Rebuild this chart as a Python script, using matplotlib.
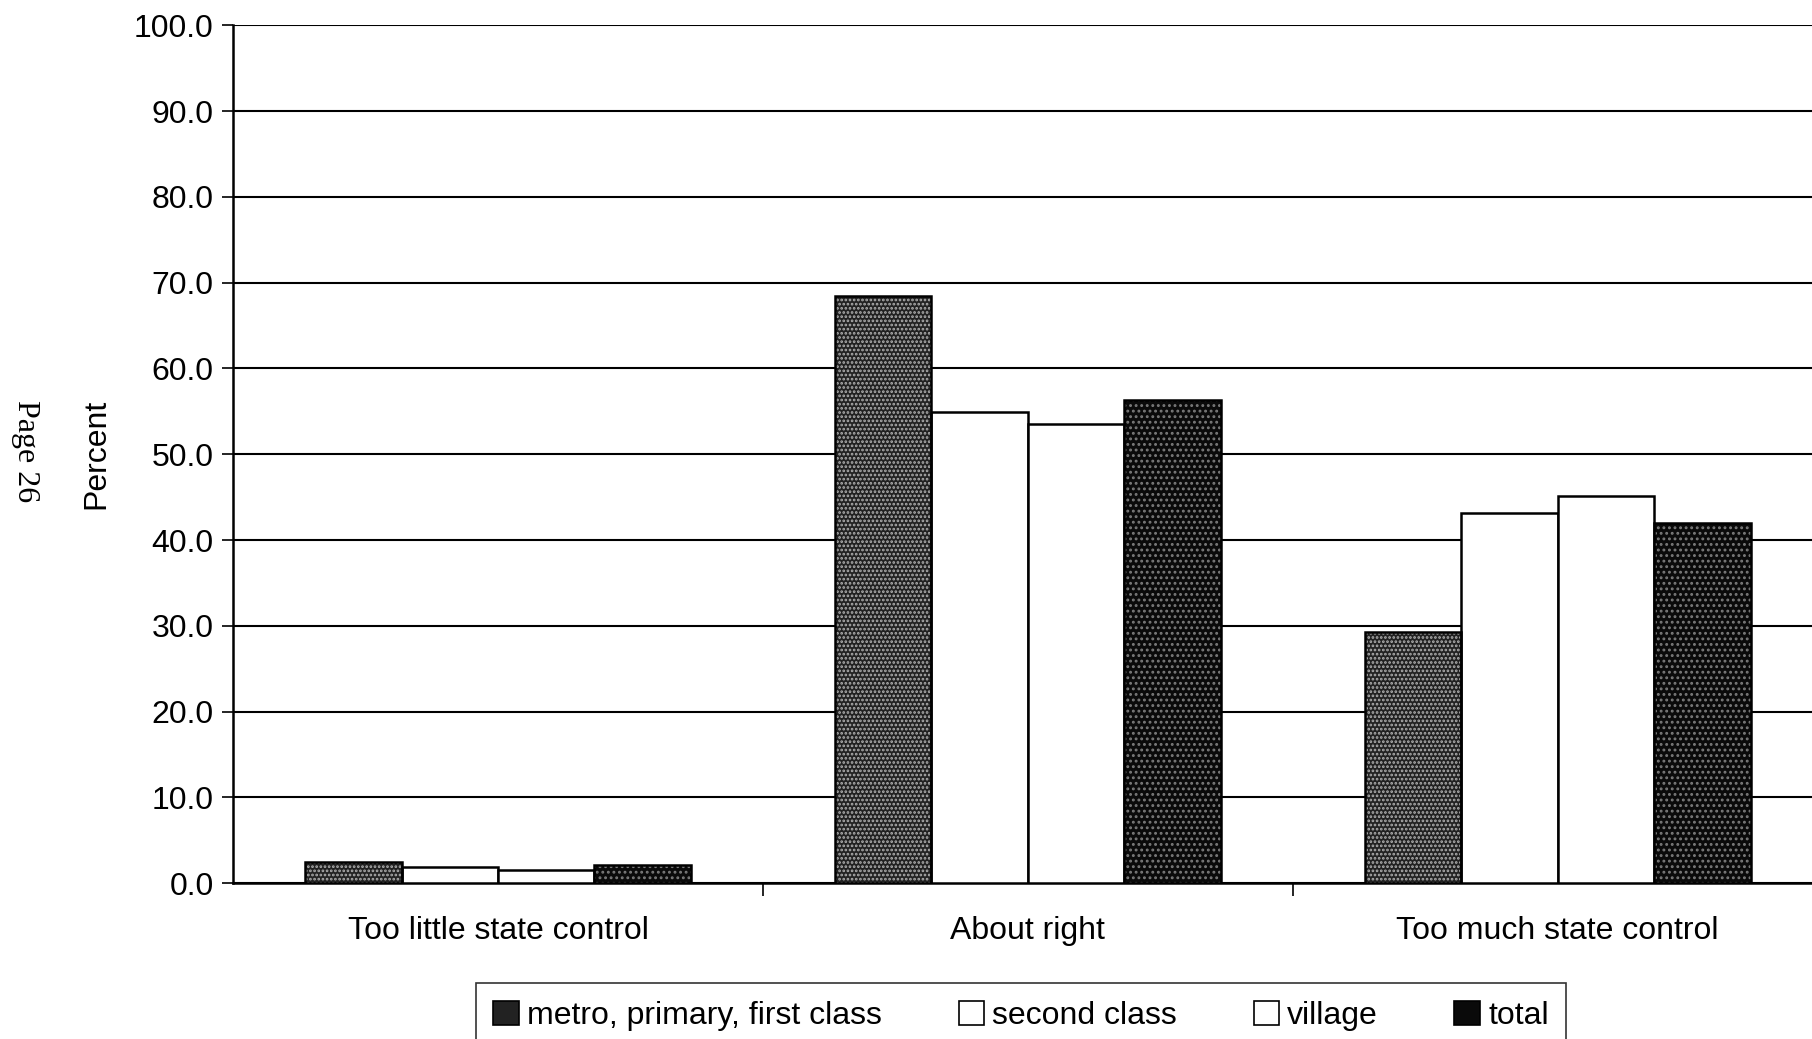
import numpy as np
import matplotlib
matplotlib.use("Agg")
from matplotlib import pyplot as plt
from matplotlib.patches import Patch

# survey shares by settlement type, percent
categories = ["Too little state control", "About right", "Too much state control"]
metro = [2.5, 68.5, 29.3]
second_class = [1.9, 54.9, 43.2]
village = [1.5, 53.5, 45.1]
total = [2.1, 56.3, 42.0]

series_names = ["metro, primary, first class", "second class", "village", "total"]
y_ticks = [0, 10, 20, 30, 40, 50, 60, 70, 80, 90, 100]

plt.rcParams["font.family"] = ["Liberation Sans", "DejaVu Sans"]
plt.rcParams["hatch.linewidth"] = 1.3

fig = plt.figure(figsize=(18.12, 10.39), dpi=100)
ax = fig.add_axes([0.1286, 0.150, 0.8714, 0.8256])

# fill, hatch colour per series
styles = [
    ("#222222", "#b0b0b0", "...."),
    ("white", "black", None),
    ("white", "black", None),
    ("#0a0a0a", "#7a7a7a", "..."),
]
values = [metro, second_class, village, total]

x = np.arange(len(categories))
w = 0.182
for i, (vals, (fc, hc, hatch)) in enumerate(zip(values, styles)):
    pos = x + (i - 1.5) * w
    if hatch:
        # stippled fill, outline drawn separately
        ax.bar(pos, vals, width=w, color=fc, edgecolor=hc, hatch=hatch,
               linewidth=0, zorder=3)
        ax.bar(pos, vals, width=w, fill=False, edgecolor="black",
               linewidth=1.8, zorder=4)
    else:
        ax.bar(pos, vals, width=w, color=fc, edgecolor="black",
               linewidth=1.8, zorder=3)

ax.set_xlim(-0.5, 2.48)
ax.set_ylim(0, 100)
ax.set_yticks(y_ticks)
ax.set_yticklabels([f"{v:.1f}" for v in y_ticks], fontsize=23)
ax.yaxis.grid(True, color="black", linewidth=1.5, zorder=0)
ax.set_axisbelow(True)

ax.set_xticks(x)
ax.set_xticklabels(categories, fontsize=23)
ax.tick_params(axis="x", which="major", length=0, pad=24)
ax.set_xticks([0.5, 1.5], minor=True)
ax.tick_params(axis="x", which="minor", length=9, width=1.2, direction="out")
ax.tick_params(axis="y", length=8, width=1.2, direction="out", pad=6)

for side in ["top", "right"]:
    ax.spines[side].set_visible(False)
ax.spines["left"].set_linewidth(1.8)
ax.spines["bottom"].set_linewidth(1.8)

ax.set_ylabel("Percent", fontsize=23, labelpad=16)

handles = [Patch(facecolor=fc, edgecolor="black", linewidth=1.2)
           for fc, hc, hatch in styles]
leg = fig.legend(handles, series_names, loc="center",
                 bbox_to_anchor=(0.5635, 0.022), ncol=4, fontsize=23,
                 frameon=True, fancybox=False, edgecolor="black",
                 handlelength=0.8, handleheight=0.8, handletextpad=0.25,
                 columnspacing=2.4, borderpad=0.55)
leg.get_frame().set_linewidth(1.2)

fig.text(0.014, 0.566, "Page 26", rotation=270, fontsize=23,
         family="Liberation Serif", ha="center", va="center")

fig.savefig("out.png", dpi=100, facecolor="white")
